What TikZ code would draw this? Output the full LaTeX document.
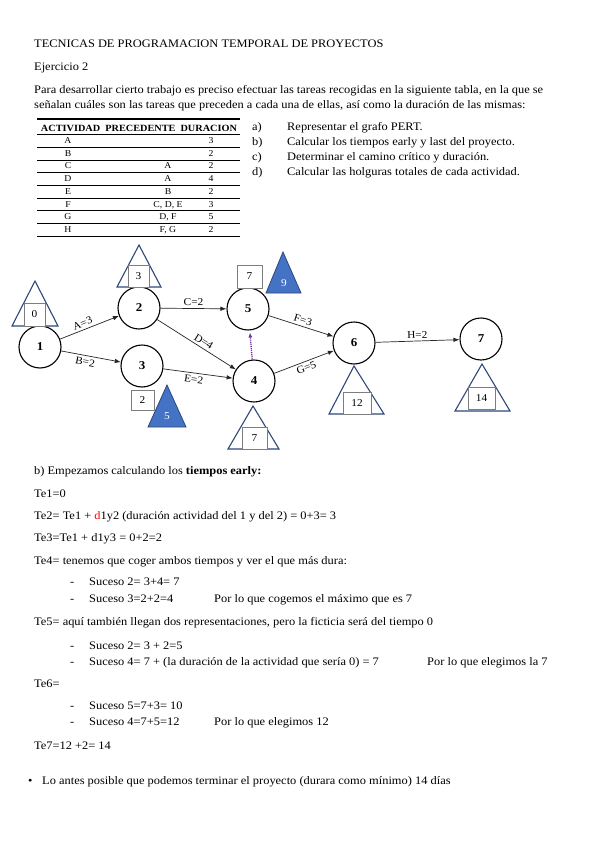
\documentclass[tikz,border=0pt]{standalone}
\usepackage{fontspec}
\setmainfont{Liberation Serif}[FakeStretch=1.08]
\usetikzlibrary{arrows.meta}
\definecolor{tribord}{RGB}{47,72,122}
\definecolor{trifill}{RGB}{68,114,196}
\definecolor{boxgray}{RGB}{125,125,125}
\definecolor{fictcol}{RGB}{112,48,160}

\begin{document}
\begin{tikzpicture}[
  x=1pt, y=-1pt,
  ev/.style={circle, draw, line width=1.1pt, minimum size=42pt, inner sep=0pt,
             font=\fontsize{12}{12}\selectfont\bfseries},
  arr/.style={-{Latex[length=6pt,width=4.5pt]}, line width=0.7pt, draw=black!85},
  fict/.style={-{Latex[length=5pt,width=4pt]}, dash pattern=on 1.2pt off 0.9pt,
               line width=1.3pt, draw=fictcol, shorten >=2pt},
  lbl/.style={font=\fontsize{10.5}{11}\selectfont, inner sep=2.5pt, sloped},
  nbox/.style={draw=boxgray, fill=white, line width=0.8pt, inner sep=0pt,
               font=\fontsize{10.5}{11}\selectfont},
  tri/.style={draw=tribord, line width=1.1pt, line join=miter},
  ftri/.style={draw=tribord, fill=trifill, line width=0.8pt},
  wnum/.style={text=white, inner sep=0pt, font=\fontsize{10.5}{11}\selectfont},
  txt/.style={anchor=base west, inner sep=0pt, font=\fontsize{11.5}{13}\selectfont},
  tab/.style={anchor=base, inner sep=0pt, font=\fontsize{9}{10}\selectfont},
]
  \fill[white] (0,0) rectangle (599,848);
  \useasboundingbox (0,0) rectangle (599,848);

  % heading
  \node[txt] (title) at (34,48) {TECNICAS DE PROGRAMACION TEMPORAL DE PROYECTOS};
  \node[txt] (ejer) at (34,71) {Ejercicio 2};
  \node[txt] (par1) at (34,94) {Para desarrollar cierto trabajo es preciso efectuar las tareas recogidas en la siguiente tabla, en la que se};
  \node[txt] (par2) at (34,109) {señalan cuáles son las tareas que preceden a cada una de ellas, así como la duración de las mismas:};

  % table
  \draw[line width=1.3pt] (37,119) -- (240,119);
  \node[tab, font=\fontsize{9.5}{10}\selectfont\bfseries] (hdr) at (139,131.5)
    {ACTIVIDAD\ \ PRECEDENTE\ \ DURACION};
  \draw[line width=0.8pt] (37,134.5) -- (240,134.5);
  \foreach \act/\pre/\dur [count=\i] in {A//3, B//2, C/A/2, D/A/4, E/B/2,
      {F/C, D, E/3}, {G/D, F/5}, {H/F, G/2}} {
    \node[tab] (act\i) at (68,{143.5+12.7*(\i-1)}) {\act};
    \node[tab] (pre\i) at (168,{143.5+12.7*(\i-1)}) {\pre};
    \node[tab] (dur\i) at (211,{143.5+12.7*(\i-1)}) {\dur};
    \draw[line width=0.8pt] (37,{134.5+12.7*\i}) -- (240,{134.5+12.7*\i});
  }

  % questions
  \node[txt] (qa) at (252,131) {a)};
  \node[txt] (qb) at (252,145) {b)};
  \node[txt] (qc) at (252,160) {c)};
  \node[txt] (qd) at (252,175) {d)};
  \node[txt] (qat) at (287,131) {Representar el grafo PERT.};
  \node[txt] (qbt) at (287,145) {Calcular los tiempos early y last del proyecto.};
  \node[txt] (qct) at (287,160) {Determinar el camino crítico y duración.};
  \node[txt] (qdt) at (287,175) {Calcular las holguras totales de cada actividad.};

  % PERT graph
  \node[ev] (n1) at (40,347) {1};
  \node[ev] (n2) at (139,308) {2};
  \node[ev] (n3) at (142,366) {3};
  \node[ev] (n5) at (248,309) {5};
  \node[ev] (n4) at (254,381) {4};
  \node[ev] (n6) at (354,343) {6};
  \node[ev] (n7) at (481,339) {7};

  \draw[arr] (n1) -- node[lbl, above, pos=0.42] {A=3} (n2);
  \draw[arr] (n1) -- node[lbl, below, pos=0.42] {B=2} (n3);
  \draw[arr] (n2) -- node[lbl, above] {C=2} (n5);
  \draw[arr] (n2) -- node[lbl, above, pos=0.55] {D=4} (n4);
  \draw[arr] (n3) -- node[lbl, below, pos=0.45] {E=2} (n4);
  \draw[arr] (n5) -- node[lbl, above] {F=3} (n6);
  \draw[arr] (n4) -- node[lbl, below] {G=5} (n6);
  \draw[arr] (n6) -- node[lbl, above] {H=2} (n7);
  \draw[fict] (n4) -- (n5);

  % early times (triangles)
  \draw[tri] (35,281) -- (58,326) -- (12,326) -- cycle;
  \node[nbox, minimum width=21pt, minimum height=23pt] (te1) at (34.5,314.5) {0};
  \draw[tri] (139,245) -- (161,287) -- (117,287) -- cycle;
  \node[nbox, minimum width=21pt, minimum height=22pt] (te2) at (138.5,276) {3};
  \draw[tri] (253,406) -- (279,449) -- (228,449) -- cycle;
  \node[nbox, minimum width=25pt, minimum height=22pt] (te4) at (254.5,438) {7};
  \draw[tri] (354,366) -- (384,414) -- (329,414) -- cycle;
  \node[nbox, minimum width=28pt, minimum height=22pt] (te6) at (357,403) {12};
  \draw[tri] (482,364) -- (510,411) -- (455,411) -- cycle;
  \node[nbox, minimum width=27pt, minimum height=22pt] (te7) at (481.5,398) {14};

  % other values
  \node[nbox, minimum width=25pt, minimum height=23pt] (v5) at (249.5,276.5) {7};
  \draw[ftri] (283,252) -- (301,293) -- (266,293) -- cycle;
  \node[wnum] (w5) at (284,283) {9};
  \node[nbox, minimum width=23pt, minimum height=20pt] (v3) at (142.5,400) {2};
  \draw[ftri] (167,385) -- (186,427) -- (148,427) -- cycle;
  \node[wnum] (w3) at (167,416) {5};

  % calculations
  \node[txt] (sb) at (34,474) {b) Empezamos calculando los \textbf{tiempos early:}};
  \node[txt] (te1t) at (34,497) {Te1=0};
  \node[txt] (te2t) at (34,519) {Te2= Te1 + \textcolor{red}{d}1y2 (duración actividad del 1 y del 2) = 0+3= 3};
  \node[txt] (te3t) at (34,541) {Te3=Te1 + d1y3 = 0+2=2};
  \node[txt] (te4t) at (34,564) {Te4= tenemos que coger ambos tiempos y ver el que más dura:};
  \node[txt] (d41) at (70,585) {-};
  \node[txt] (s41) at (89,585) {Suceso 2= 3+4= 7};
  \node[txt] (d42) at (70,602) {-};
  \node[txt] (s42) at (89,602) {Suceso 3=2+2=4};
  \node[txt] (r4) at (214,602) {Por lo que cogemos el máximo que es 7};
  \node[txt] (te5t) at (34,625) {Te5= aquí también llegan dos representaciones, pero la ficticia será del tiempo 0};
  \node[txt] (d51) at (70,649) {-};
  \node[txt] (s51) at (89,649) {Suceso 2= 3 + 2=5};
  \node[txt] (d52) at (70,665) {-};
  \node[txt] (s52) at (89,665) {Suceso 4= 7 + (la duración de la actividad que sería 0) = 7};
  \node[txt] (r5) at (427,665) {Por lo que elegimos la 7};
  \node[txt] (te6t) at (34,687) {Te6=};
  \node[txt] (d61) at (70,709) {-};
  \node[txt] (s61) at (89,709) {Suceso 5=7+3= 10};
  \node[txt] (d62) at (70,725) {-};
  \node[txt] (s62) at (89,725) {Suceso 4=7+5=12};
  \node[txt] (r6) at (214,725) {Por lo que elegimos 12};
  \node[txt] (te7t) at (34,749) {Te7=12 +2= 14};
  \node[txt] (bul) at (28,784) {•};
  \node[txt] (fin) at (42,784) {Lo antes posible que podemos terminar el proyecto (durara como mínimo) 14 días};
\end{tikzpicture}
\end{document}
